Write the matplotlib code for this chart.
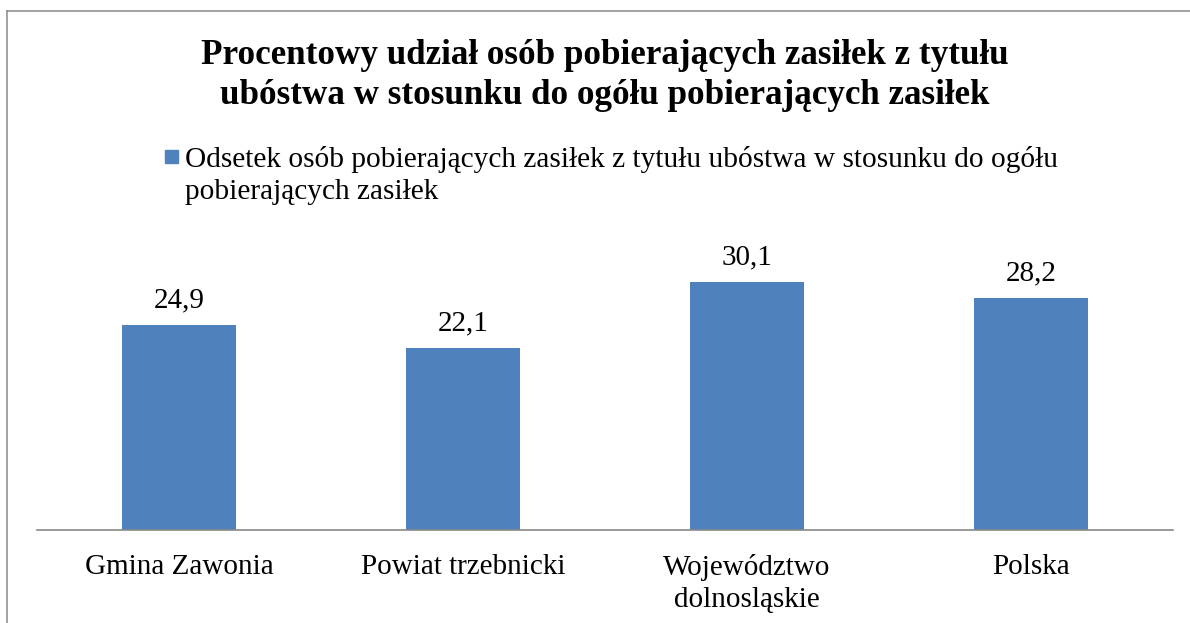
import matplotlib.pyplot as plt
from matplotlib.lines import Line2D
from matplotlib.patches import Rectangle

# Data
categories = ["Gmina Zawonia", "Powiat trzebnicki", "Województwo\ndolnosląskie", "Polska"]
values = [24.9, 22.1, 30.1, 28.2]
value_labels = ["24,9", "22,1", "30,1", "28,2"]
title = ("Procentowy udział osób pobierających zasiłek z tytułu\n"
         "ubóstwa w stosunku do ogółu pobierających zasiłek")
series_label = ("Odsetek osób pobierających zasiłek z tytułu ubóstwa w stosunku do ogółu\n"
                "pobierających zasiłek")

bar_color = "#4F81BD"
grey = "#898989"
W, H = 1190, 623
fs = 21.0

plt.rcParams["font.family"] = ["Liberation Serif", "DejaVu Serif"]

fig = plt.figure(figsize=(W / 100, H / 100), dpi=100)
ax = fig.add_axes([37 / W, 1 - 530 / H, 1136 / W, 288 / H])

x = list(range(len(categories)))
bars = ax.bar(x, values, width=0.4, color=bar_color, zorder=2)
for xi, v, lab in zip(x, values, value_labels):
    ax.annotate(lab, (xi, v), xytext=(0, 13), textcoords="offset points",
                ha="center", va="baseline", fontsize=fs)

ax.set_xlim(-0.5, len(categories) - 0.5)
ax.set_ylim(0, 35)
ax.set_xticks(x)
ax.set_xticklabels(categories, fontsize=fs, linespacing=1.3)
ax.tick_params(axis="x", length=0, pad=17)
ax.set_yticks([])
for side in ["left", "right", "top"]:
    ax.spines[side].set_visible(False)
ax.spines["bottom"].set_color(grey)
ax.spines["bottom"].set_linewidth(1.2)
ax.set_facecolor("none")

# title
fig.text(605 / W, 1 - 39 / H, title, ha="center", va="top", fontsize=25.2,
         fontweight="bold", linespacing=1.29)

# legend (square marker on first line)
fig.add_artist(Rectangle((165 / W, 1 - 163 / H), 13 / W, 13 / H,
                         transform=fig.transFigure, color=bar_color))
fig.text(185 / W, 1 - 146 / H, series_label, ha="left", va="top",
         fontsize=21.2, linespacing=1.29)

# chart border (cropped on right and bottom)
fig.add_artist(Line2D([7 / W, 1.0], [1 - 11 / H, 1 - 11 / H], color=grey, lw=1.1,
                      transform=fig.transFigure))
fig.add_artist(Line2D([7 / W, 7 / W], [0, 1 - 11 / H], color=grey, lw=1.1,
                      transform=fig.transFigure))

fig.savefig("out.png", dpi=100)
